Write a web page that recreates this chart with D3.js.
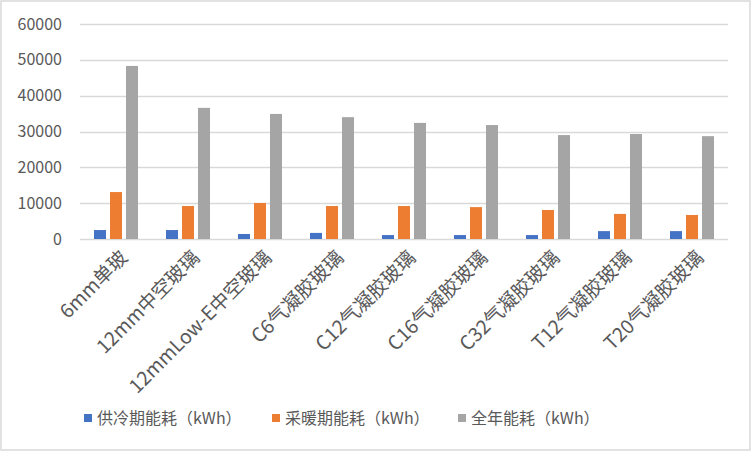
<!DOCTYPE html>
<html>
<head>
<meta charset="utf-8">
<script src="https://cdn.jsdelivr.net/npm/d3@7"></script>
<style>
  body { margin: 0; background: #fff; }
  text { font-family: "Noto Sans CJK SC", "Noto Sans", sans-serif; fill: #595959; }
</style>
</head>
<body>
<div id="chart"></div>
<script>
var categories = ["6mm单玻", "12mm中空玻璃", "12mmLow-E中空玻璃", "C6气凝胶玻璃", "C12气凝胶玻璃",
                  "C16气凝胶玻璃", "C32气凝胶玻璃", "T12气凝胶玻璃", "T20气凝胶玻璃"];
var seriesNames = ["供冷期能耗（kWh）", "采暖期能耗（kWh）", "全年能耗（kWh）"];
var cooling = [2500, 2500, 1400, 1700, 1100, 1100, 1100, 2200, 2200];
var heating = [13100, 9200, 10050, 9200, 9200, 8900, 8100, 7000, 6700];
var annual  = [48300, 36600, 34900, 34000, 32400, 31800, 29000, 29300, 28700];
var yTicks = [0, 10000, 20000, 30000, 40000, 50000, 60000];
var colors = ["#4472C4", "#ED7D31", "#A5A5A5"];

var width = 752, height = 452;
var margin = {left: 80, right: 24, top: 24, bottom: 213};

var svg = d3.select("#chart").append("svg")
    .attr("width", width)
    .attr("height", height);

// chart area border
svg.append("rect")
    .attr("x", 1).attr("y", 1)
    .attr("width", width - 3).attr("height", height - 3)
    .attr("fill", "#fff")
    .attr("stroke", "#d9d9d9")
    .attr("stroke-width", 1.5);

var x = d3.scaleBand()
    .domain(categories)
    .range([margin.left, width - margin.right]);

var xInner = d3.scaleBand()
    .domain(d3.range(3))
    .range([-22, 22])
    .paddingInner(0.25);

var y = d3.scaleLinear()
    .domain([0, 60000])
    .range([height - margin.bottom, margin.top]);

// gridlines
svg.append("g")
  .selectAll("line")
  .data(yTicks)
  .join("line")
    .attr("x1", margin.left).attr("x2", width - margin.right)
    .attr("y1", function(d) { return Math.round(y(d)) + 0.5; })
    .attr("y2", function(d) { return Math.round(y(d)) + 0.5; })
    .attr("stroke", "#d9d9d9")
    .attr("stroke-width", 1.5);

// y axis labels
var yAxis = svg.append("g")
    .attr("transform", "translate(" + margin.left + ",0)")
    .call(d3.axisLeft(y).tickValues(yTicks).tickSize(0).tickPadding(18).tickFormat(d3.format("d")));
yAxis.select(".domain").remove();
yAxis.selectAll("text")
    .style("font-size", "16px")
    .attr("fill", "#595959");

var series = [cooling, heating, annual];
var rows = categories.map(function(c, i) {
  return {cat: c, vals: series.map(function(s) { return s[i]; })};
});

var groups = svg.append("g")
  .selectAll("g")
  .data(rows)
  .join("g")
    .attr("transform", function(d) { return "translate(" + (x(d.cat) + x.bandwidth() / 2) + ",0)"; });

groups.selectAll("rect")
  .data(function(d) { return d.vals; })
  .join("rect")
    .attr("x", function(d, i) { return xInner(i); })
    .attr("width", xInner.bandwidth())
    .attr("y", function(d) { return y(d); })
    .attr("height", function(d) { return y(0) - y(d); })
    .attr("fill", function(d, i) { return colors[i]; });

// x labels, rotated
svg.append("g")
  .selectAll("text")
  .data(categories)
  .join("text")
    .attr("transform", function(d) {
      return "translate(" + (x(d) + x.bandwidth() / 2 + 8) + "," + (y(0) + 15) + ") rotate(-45)";
    })
    .attr("text-anchor", "end")
    .attr("dy", "0.35em")
    .style("font-size", "19.5px")
    .text(function(d) { return d; });

// legend
var legendX = [84, 272, 458];
var legend = svg.append("g")
  .selectAll("g")
  .data(seriesNames)
  .join("g")
    .attr("transform", function(d, i) { return "translate(" + legendX[i] + ",418)"; });
legend.append("rect")
    .attr("x", 0).attr("y", -4)
    .attr("width", 8).attr("height", 8)
    .attr("fill", function(d, i) { return colors[i]; });
legend.append("text")
    .attr("x", 13)
    .attr("dy", "0.35em")
    .style("font-size", "16px")
    .text(function(d) { return d; });
</script>
</body>
</html>
